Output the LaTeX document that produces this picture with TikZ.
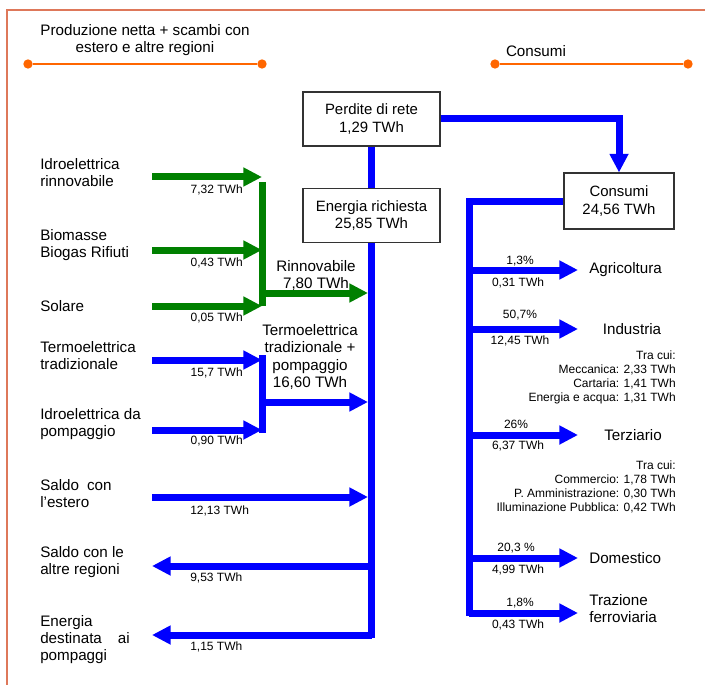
\documentclass[tikz,border=0pt]{standalone}
\usepackage{fontspec}
\setmainfont{Liberation Sans}
\usetikzlibrary{arrows.meta}
\definecolor{flowgreen}{RGB}{0,128,0}
\definecolor{flowblue}{RGB}{0,0,255}
\definecolor{headorange}{RGB}{255,102,0}
\definecolor{framered}{RGB}{222,120,90}

\begin{document}
\begin{tikzpicture}[x=0.75pt,y=-0.75pt,
  box/.style={draw=black!80,fill=white,line width=0.8pt,minimum width=102.75pt,minimum height=40.5pt,align=center,font=\fontsize{11.2}{13}\selectfont},
  big/.style={inner sep=0pt,align=left,font=\fontsize{11.4}{12.75}\selectfont},
  small/.style={inner sep=0pt,font=\fontsize{9}{10.5}\selectfont},
  dot/.style={circle,fill=headorange,inner sep=0pt,minimum size=7pt},
  headline/.style={headorange,line width=2.2pt},
  flow/.style={line width=5.25pt},
  flowtip/.style={-{Triangle[length=14pt,width=13.5pt]}},
]
\useasboundingbox (0,0) rectangle (705,684);

% frame
\draw [framered, line width=1.1pt] (7,690) -- (7,10) -- (710,10);

% headers
\node [big, align=center] (hprod) at (145,40) {Produzione netta + scambi con\\estero e altre regioni};
\node [big] (hcons) at (536,51) {Consumi};
\node [dot] (pl) at (28,64) {};
\node [dot] (pr) at (262,64) {};
\node [dot] (cl) at (495,64) {};
\node [dot] (cr) at (688,64) {};
\draw [headline] (pl) -- (pr);
\draw [headline] (cl) -- (cr);

% main trunk
\node [box] (perdite) at (371.5,119) {Perdite di rete\\1,29 TWh};
\coordinate (trend) at (371.5,638);
\draw [flow, flowblue] (perdite.south) -- (trend);
\node [box] (richiesta) at (371.5,215.5) {Energia richiesta\\25,85 TWh};

% sources
\node [big, anchor=west] (idro) at (40,172.5) {Idroelettrica\\rinnovabile};
\node [big, anchor=west] (bio) at (40,245.5) {Biomasse\\Biogas Rifiuti};
\node [big, anchor=west] (sol) at (40,306) {Solare};
\node [big, anchor=west] (termo) at (40,356) {Termoelettrica\\tradizionale};
\node [big, anchor=west] (pomp) at (40,424.5) {Idroelettrica da\\pompaggio};
\node [big, anchor=west] (estero) at (40,494) {Saldo\hspace{6pt}con\\l'estero};
\node [big, anchor=west] (regioni) at (40,562.5) {Saldo con le\\altre regioni};
\node [big, anchor=west] (destin) at (40,640) {Energia\\destinata\hspace{12pt}ai\\pompaggi};

\coordinate (idro-a) at (152,177);
\coordinate (idro-b) at (262,177);
\coordinate (bio-a) at (152,250);
\coordinate (bio-b) at (262,250);
\coordinate (sol-a) at (152,306);
\coordinate (sol-b) at (262,306);
\coordinate (termo-a) at (152,360);
\coordinate (termo-b) at (262,360);
\coordinate (pomp-a) at (152,430);
\coordinate (pomp-b) at (262,430);

\draw [flow, flowgreen, flowtip] (idro-a) -- (idro-b);
\draw [flow, flowgreen, flowtip] (bio-a) -- (bio-b);
\draw [flow, flowgreen, flowtip] (sol-a) -- (sol-b);
\draw [flow, flowblue, flowtip] (termo-a) -- (termo-b);
\draw [flow, flowblue, flowtip] (pomp-a) -- (pomp-b);

\node [small, anchor=east] at (243,190) {7,32 TWh};
\node [small, anchor=east] at (243,263) {0,43 TWh};
\node [small, anchor=east] at (243,318) {0,05 TWh};
\node [small, anchor=east] at (243,373) {15,7 TWh};
\node [small, anchor=east] at (243,441) {0,90 TWh};

% collectors
\coordinate (rin-top) at (262,182);
\coordinate (rin-bot) at (262,306);
\coordinate (rin-j) at (262,293);
\coordinate (rin-t) at (368,293);
\draw [flow, flowgreen] (rin-top) -- (rin-bot);
\draw [flow, flowgreen, flowtip] (rin-j) -- (rin-t);
\node [big, align=center] (rinnov) at (316,275) {Rinnovabile\\7,80 TWh};

\coordinate (ter-top) at (262,355);
\coordinate (ter-bot) at (262,433);
\coordinate (ter-j) at (262,402);
\coordinate (ter-t) at (368,402);
\draw [flow, flowblue] (ter-top) -- (ter-bot);
\draw [flow, flowblue, flowtip] (ter-j) -- (ter-t);
\node [big, align=center, font=\fontsize{11.4}{13}\selectfont] (tradiz) at (310,357) {Termoelettrica\\tradizionale +\\pompaggio\\16,60 TWh};

% exchanges
\coordinate (est-a) at (152,497);
\coordinate (est-t) at (368,497);
\draw [flow, flowblue, flowtip] (est-a) -- (est-t);
\node [small, anchor=west] at (190,511) {12,13 TWh};

\coordinate (reg-a) at (371.5,566);
\coordinate (reg-t) at (152,566);
\draw [flow, flowblue, flowtip] (reg-a) -- (reg-t);
\node [small, anchor=west] at (190,578) {9,53 TWh};

\coordinate (des-a) at (371.5,635);
\coordinate (des-t) at (152,635);
\draw [flow, flowblue, flowtip] (des-a) -- (des-t);
\node [small, anchor=west] at (190,647) {1,15 TWh};

% consumption
\node [box, minimum width=82.5pt, minimum height=42pt] (consumi) at (619,201) {Consumi\\24,56 TWh};
\draw [flow, flowblue, flowtip] (perdite.east) -| (consumi.north);
\coordinate (ctr-end) at (469,616);
\draw [flow, flowblue] (consumi.west) -| (ctr-end);

\coordinate (agr-a) at (469,270);
\coordinate (agr-t) at (578,270);
\coordinate (ind-a) at (469,329);
\coordinate (ind-t) at (578,329);
\coordinate (ter2-a) at (469,435);
\coordinate (ter2-t) at (578,435);
\coordinate (dom-a) at (469,558);
\coordinate (dom-t) at (578,558);
\coordinate (fer-a) at (469,613);
\coordinate (fer-t) at (578,613);

\draw [flow, flowblue, flowtip] (agr-a) -- (agr-t);
\draw [flow, flowblue, flowtip] (ind-a) -- (ind-t);
\draw [flow, flowblue, flowtip] (ter2-a) -- (ter2-t);
\draw [flow, flowblue, flowtip] (dom-a) -- (dom-t);
\draw [flow, flowblue, flowtip] (fer-a) -- (fer-t);

\node [big, anchor=west] (agri) at (589,270) {Agricoltura};
\node [big] (indus) at (632,329) {Industria};
\node [big] (terz) at (633,435) {Terziario};
\node [big, anchor=west] (domes) at (589,558) {Domestico};
\node [big, anchor=west] (traz) at (589,609) {Trazione\\ferroviaria};

\node [small] at (520,261) {1,3\%};
\node [small] at (518,283) {0,31 TWh};
\node [small] at (520,315) {50,7\%};
\node [small] at (520,341) {12,45 TWh};
\node [small] at (516,424) {26\%};
\node [small] at (518,446) {6,37 TWh};
\node [small] at (516,548) {20,3 \%};
\node [small] at (518,570) {4,99 TWh};
\node [small] at (520,603) {1,8\%};
\node [small] at (518,625) {0,43 TWh};

\node [small, align=right, anchor=east] (indcui) at (676,377) {Tra cui:\\Meccanica: 2,33 TWh\\Cartaria: 1,41 TWh\\Energia e acqua: 1,31 TWh};
\node [small, align=right, anchor=east] (tercui) at (676,486.5) {Tra cui:\\Commercio: 1,78 TWh\\P. Amministrazione: 0,30 TWh\\Illuminazione Pubblica: 0,42 TWh};
\end{tikzpicture}
\end{document}
